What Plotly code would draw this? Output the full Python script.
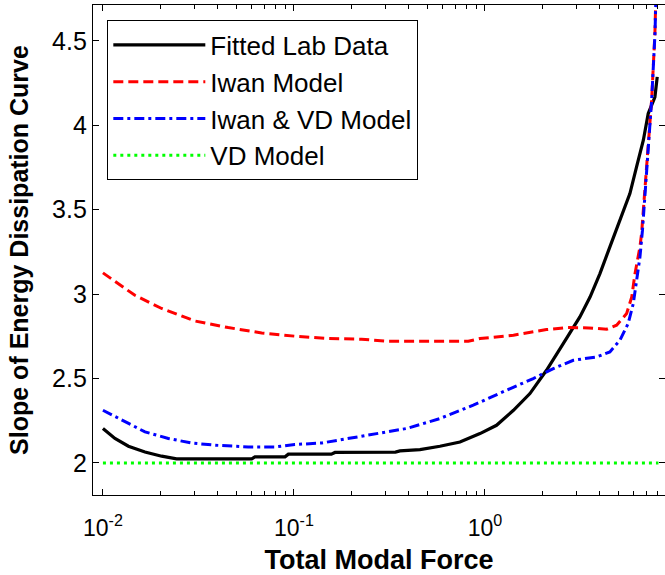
import plotly.graph_objects as go

# ---- data ----
fit_x = [0.01, 0.01156, 0.0136, 0.0166, 0.0203, 0.0243, 0.0601, 0.0625, 0.0898, 0.0935,
         0.157, 0.164, 0.34, 0.359, 0.457, 0.581, 0.740, 0.942, 1.15, 1.41, 1.72, 2.10,
         2.57, 3.14, 3.55, 4.00, 4.51, 5.09, 5.74, 6.22, 6.75, 7.16, 7.76, 7.98]
fit_y = [2.204, 2.145, 2.099, 2.065, 2.040, 2.024, 2.024, 2.036, 2.036, 2.052,
         2.052, 2.062, 2.064, 2.071, 2.079, 2.099, 2.124, 2.174, 2.223, 2.312, 2.411, 2.549,
         2.707, 2.865, 2.983, 3.122, 3.280, 3.438, 3.596, 3.754, 3.912, 4.070, 4.168, 4.287]

iwan_x = [0.01, 0.0147, 0.0203, 0.0303, 0.0453, 0.0678, 0.101, 0.151, 0.226, 0.31, 0.50,
          0.818, 0.942, 1.41, 2.10, 2.68, 3.5, 4.34, 4.89, 5.52, 5.87, 6.10, 6.48, 6.61,
          7.02, 7.46, 7.76, 7.95]
iwan_y = [3.126, 2.993, 2.915, 2.841, 2.802, 2.770, 2.751, 2.737, 2.733, 2.721, 2.721,
          2.721, 2.737, 2.757, 2.790, 2.802, 2.800, 2.792, 2.816, 2.885, 2.983, 3.120, 3.280, 3.360,
          3.754, 4.149, 4.546, 5.0]

iwvd_x = [0.01, 0.01253, 0.0166, 0.0220, 0.0291, 0.0386, 0.0576, 0.0796, 0.101, 0.140,
          0.192, 0.265, 0.389, 0.581, 0.869, 1.30, 1.79, 2.28, 2.90, 3.84, 4.51, 5.09, 5.62,
          5.98, 6.22, 6.48, 6.68, 7.03, 7.46, 7.77, 7.95]
iwvd_y = [2.312, 2.253, 2.184, 2.145, 2.118, 2.105, 2.095, 2.095, 2.109, 2.118,
          2.145, 2.170, 2.204, 2.263, 2.342, 2.431, 2.500, 2.559, 2.608, 2.628, 2.658, 2.727, 2.826,
          2.944, 3.082, 3.220, 3.379, 3.754, 4.149, 4.546, 5.0]

vd_x = [0.01, 8.1]
vd_y = [2.0, 2.0]

y_ticks = [2, 2.5, 3, 3.5, 4, 4.5]
y_tick_text = ["2", "2.5", "3", "3.5", "4", "4.5"]
x_ticks = [0.01, 0.1, 1]
x_tick_text = ["10<sup>-2</sup>", "10<sup>-1</sup>", "10<sup>0</sup>"]
x_minor_ticks = [m * d for d in (0.01, 0.1, 1) for m in range(2, 10)]

FONT = "Liberation Sans, Arial, sans-serif"

fig = go.Figure()
fig.add_trace(go.Scatter(x=fit_x, y=fit_y, mode="lines", name="Fitted Lab Data",
                         line=dict(color="#000000", width=3.2)))
fig.add_trace(go.Scatter(x=iwan_x, y=iwan_y, mode="lines", name="Iwan Model",
                         line=dict(color="#ff0000", width=3, dash="10px,5px")))
fig.add_trace(go.Scatter(x=iwvd_x, y=iwvd_y, mode="lines", name="Iwan &amp; VD Model",
                         line=dict(color="#0000ff", width=3, dash="10px,4px,3px,4px")))
fig.add_trace(go.Scatter(x=vd_x, y=vd_y, mode="lines", name="VD Model",
                         line=dict(color="#00ff00", width=3, dash="3px,4px")))

fig.update_layout(
    width=665, height=575,
    margin=dict(l=93, r=0, t=5, b=80),
    paper_bgcolor="white", plot_bgcolor="white",
    font=dict(family=FONT, size=23, color="black"),
    showlegend=True,
    legend=dict(x=0.0245, y=0.969, xanchor="left", yanchor="top",
                bordercolor="black", borderwidth=1.3, bgcolor="white",
                font=dict(size=26), itemwidth=92, tracegroupgap=0),
    xaxis=dict(type="log", range=[-2.052, 0.9427], showgrid=False, zeroline=False,
               showline=True, linecolor="black", linewidth=1.3, mirror="allticks",
               ticks="inside", ticklen=6, tickcolor="black",
               tickvals=x_ticks, ticktext=x_tick_text, tickfont=dict(size=23),
               ticklabelstandoff=12,
               minor=dict(tickmode="array", tickvals=x_minor_ticks, ticks="inside",
                          ticklen=4, tickcolor="black", showgrid=False),
               title=dict(text="<b>Total Modal Force</b>", font=dict(size=27), standoff=15),
               automargin=False),
    yaxis=dict(range=[1.81, 4.713], showgrid=False, zeroline=False,
               showline=True, linecolor="black", linewidth=1.3, mirror="allticks",
               ticks="inside", ticklen=6, tickcolor="black",
               tickvals=y_ticks, ticktext=y_tick_text, tickfont=dict(size=25),
               title=dict(text="<b>Slope of Energy Dissipation Curve</b>", font=dict(size=25), standoff=16),
               automargin=False),
)

fig.write_html("out.html", config={"displayModeBar": False},
               post_script="document.body.style.margin='0px';")
